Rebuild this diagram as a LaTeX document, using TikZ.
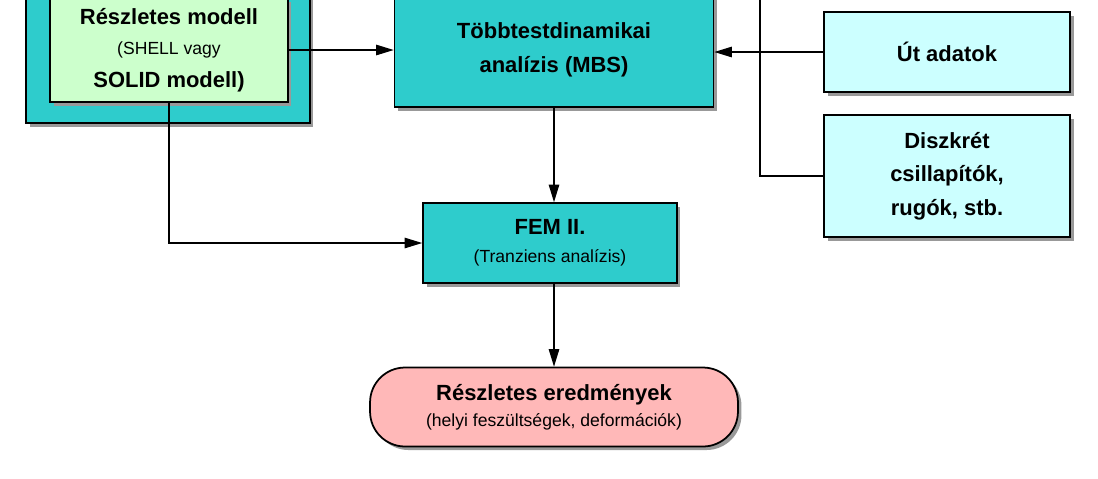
\documentclass[tikz,border=0pt]{standalone}
\usepackage{fontspec}
\setmainfont{Liberation Sans}
\usetikzlibrary{arrows.meta,shadows}

\tikzset{
  box/.style={draw, line width=1pt, align=center, inner sep=0pt,
    drop shadow={shadow xshift=2pt, shadow yshift=-2pt, fill=gray!80, opacity=1}},
  big/.style={font=\fontsize{12.5}{19}\selectfont\bfseries},
  arr/.style={-{Triangle[length=10pt,width=6pt]}, line width=0.6pt},
}
\definecolor{teal}{HTML}{2ECCCC}
\definecolor{lgreen}{HTML}{CCFFCC}
\definecolor{lcyan}{HTML}{CCFFFF}
\definecolor{pink}{HTML}{FFB8B8}
\newcommand{\subtxt}{\fontsize{10}{13}\selectfont\mdseries}

\begin{document}
\begin{tikzpicture}[x=0.02cm, y=-0.02cm]
        \useasboundingbox (0,0) rectangle (1098,478);
        \clip (0,0) rectangle (1098,478);

        \node[box, fill=teal, minimum width=5.68cm, minimum height=2.88cm] (outer) at (168,51) {};
        \node[box, fill=lgreen, minimum width=4.76cm, minimum height=2.08cm, big] (model) at (169,50)
            {Részletes modell\\[-2pt]\subtxt (SHELL vagy\\ SOLID modell)};
        \node[box, fill=teal, minimum width=6.38cm, minimum height=2.28cm, big] (mbs) at (554,50)
            {Többtestdinamikai\\ analízis (MBS)};
        \node[box, fill=lcyan, minimum width=4.92cm, minimum height=1.6cm, big] (ut) at (947,52)
            {Út adatok};
        \node[box, fill=lcyan, minimum width=4.92cm, minimum height=2.44cm, big] (disz) at (947,176)
            {Diszkrét\\ csillapítók,\\ rugók, stb.};
        \node[box, fill=teal, minimum width=5.08cm, minimum height=1.6cm, big] (fem) at (550,243)
            {FEM II.\\[-3pt]\subtxt (Tranziens analízis)};
        \node[box, fill=pink, rounded corners=0.7cm, minimum width=7.36cm, minimum height=1.58cm, big] (res) at (554,407)
            {Részletes eredmények\\[-4pt]\subtxt (helyi feszültségek, deformációk)};

        % connectors
        \coordinate (top) at (760,-5);
        \draw[arr] (model.east |- 0,50) -- (mbs.west |- 0,50);
        \draw[arr] (ut.west) -- (mbs.east |- ut.west);
        \draw[line width=0.6pt] (top) |- (disz.west);
        \draw[arr] (mbs.south) -- (mbs.south |- fem.north);
        \draw[arr] (model.south) |- (fem.west);
        \draw[arr] (fem.south -| res.north) -- (res.north);
\end{tikzpicture}
\end{document}
